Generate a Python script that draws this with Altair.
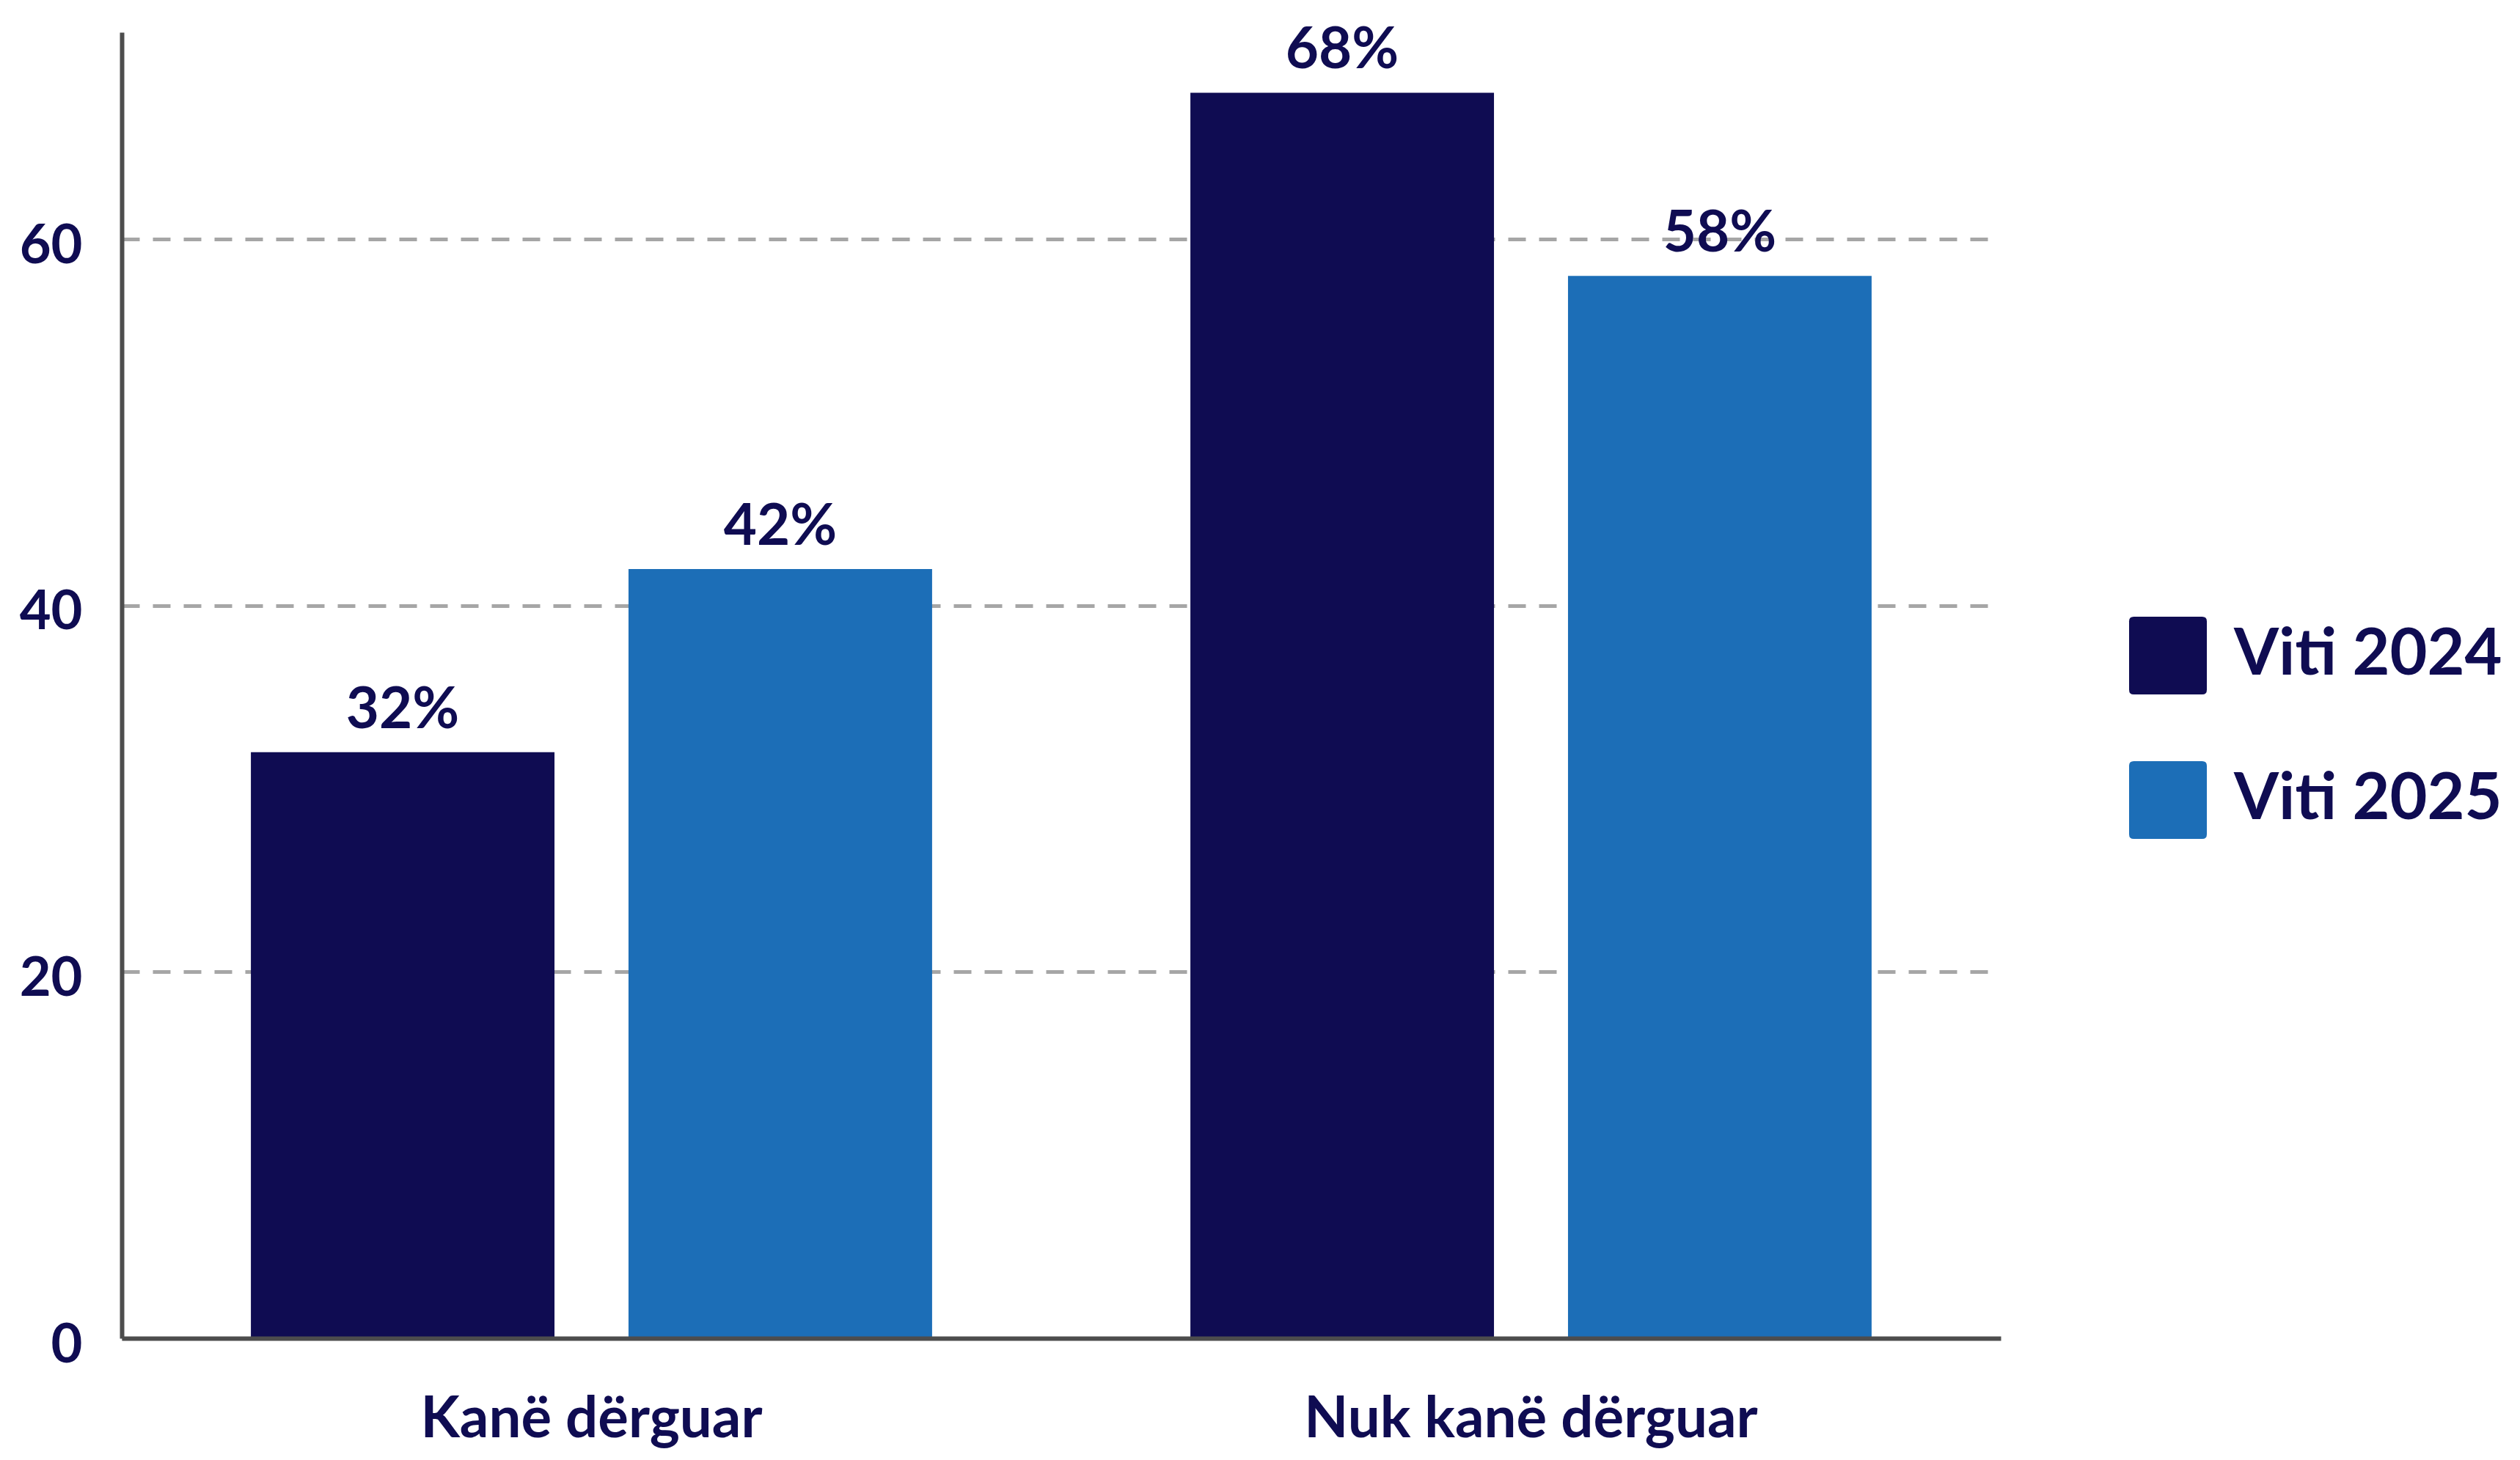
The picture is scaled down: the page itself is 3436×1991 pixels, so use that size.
import altair as alt
import pandas as pd

categories = ["Kanë dërguar", "Nuk kanë dërguar"]
years = ["Viti 2024", "Viti 2025"]
values_2024 = [32, 68]
values_2025 = [42, 58]
y_ticks = [0, 20, 40, 60]

NAVY = "#0F0C52"
BLUE = "#1C6EB7"

rows = []
for cat, v in zip(categories, values_2024):
    rows.append({"cat": cat, "year": years[0], "value": v, "label": f"{v}%"})
for cat, v in zip(categories, values_2025):
    rows.append({"cat": cat, "year": years[1], "value": v, "label": f"{v}%"})
df = pd.DataFrame(rows)

FONT = "Lato"

x_enc = alt.X(
    "cat:N",
    sort=categories,
    scale=alt.Scale(paddingInner=0, paddingOuter=0),
    axis=alt.Axis(
        title=None, labelAngle=0, ticks=False, domainColor="#4D4D4D", domainWidth=6,
        labelFont=FONT, labelFontSize=78, labelFontWeight="bold", labelColor=NAVY,
        labelPadding=72, labelBaseline="top", grid=False, zindex=1, labelLimit=2000,
    ),
)
xoff_enc = alt.XOffset("year:N", sort=years, scale=alt.Scale(paddingInner=0.196, paddingOuter=0.342))
y_enc = alt.Y(
    "value:Q",
    scale=alt.Scale(domain=[0, 71.3], nice=False, zero=True),
    axis=alt.Axis(
        title=None, values=y_ticks, ticks=False, domainColor="#4D4D4D", domainWidth=6,
        grid=True, gridColor="#A6A6A6", gridWidth=5, gridDash=[24, 18],
        labelFont=FONT, labelFontSize=74, labelFontWeight="bold", labelColor=NAVY,
        labelPadding=54, labelOffset=10, zindex=0,
    ),
)

rounded_square = "M -0.88,-1 H 0.88 Q 1,-1 1,-0.88 V 0.88 Q 1,1 0.88,1 H -0.88 Q -1,1 -1,0.88 V -0.88 Q -1,-1 -0.88,-1 Z"

bars = alt.Chart(df).mark_bar().encode(
    x=x_enc,
    xOffset=xoff_enc,
    y=y_enc,
    color=alt.Color(
        "year:N",
        sort=years,
        scale=alt.Scale(domain=years, range=[NAVY, BLUE]),
        legend=alt.Legend(
            title=None, orient="none", legendX=2737, legendY=797,
            symbolType=rounded_square, symbolSize=11236, symbolStrokeWidth=0, symbolOpacity=1,
            labelFont=FONT, labelFontSize=88, labelFontWeight="bold", labelColor=NAVY,
            labelOffset=37, rowPadding=91, padding=0, labelLimit=600,
        ),
    ),
)

labels = alt.Chart(df).mark_text(
    dy=-33, baseline="alphabetic", align="center", font=FONT, fontSize=78,
    fontWeight="bold", color=NAVY,
).encode(
    x=alt.X("cat:N", sort=categories),
    xOffset=alt.XOffset("year:N", sort=years),
    y=alt.Y("value:Q"),
    text="label:N",
)

chart = alt.layer(bars, labels).properties(
    width=2562,
    height=1781,
    autosize=alt.AutoSizeParams(type="none"),
    padding={"left": 158, "top": 36, "right": 690, "bottom": 158},
    background="white",
).configure_view(stroke=None)

chart.save("out.html", embed_options={"renderer": "svg", "actions": False})
